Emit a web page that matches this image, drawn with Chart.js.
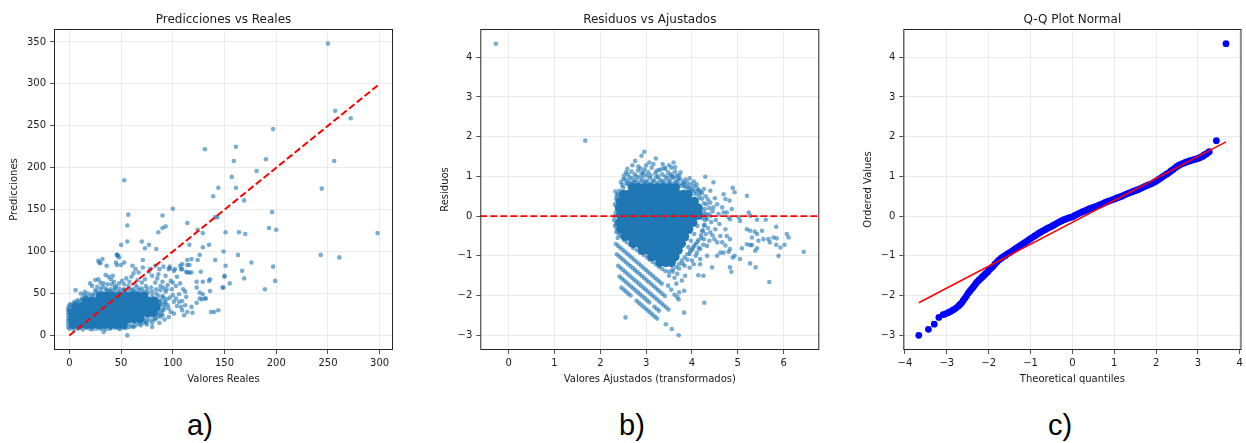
<!DOCTYPE html>
<html>
<head>
<meta charset="utf-8">
<script src="https://cdn.jsdelivr.net/npm/chart.js@4.4.0/dist/chart.umd.min.js"></script>
<style>
  body { margin: 0; background: #fff; width: 1246px; height: 443px; position: relative; overflow: hidden; }
  canvas { position: absolute; top: 0; }
  .tag { position: absolute; top: 411px; width: 80px; text-align: center; line-height: 1;
         font-family: "Liberation Sans", Arial, sans-serif; font-size: 29px; color: #000; }
</style>
</head>
<body>
<canvas id="predChart" width="410" height="400" style="left:0"></canvas>
<canvas id="residChart" width="420" height="400" style="left:410px"></canvas>
<canvas id="qqChart" width="416" height="400" style="left:830px"></canvas>
<div class="tag" style="left:160px">a)</div>
<div class="tag" style="left:592px">b)</div>
<div class="tag" style="left:1020px">c)</div>
<script>
// tick labels
var predXTicks = [0, 50, 100, 150, 200, 250, 300];
var predYTicks = [0, 50, 100, 150, 200, 250, 300, 350];
var residXTicks = [0, 1, 2, 3, 4, 5, 6];
var residYTicks = [-3, -2, -1, 0, 1, 2, 3, 4];
var qqXTicks = [-4, -3, -2, -1, 0, 1, 2, 3, 4];
var qqYTicks = [-3, -2, -1, 0, 1, 2, 3, 4];

// reference lines
var idealLine = [[0, 0], [298, 298]];
var zeroLineY = 0;
var qqFitLine = [[-3.67, -2.18], [3.67, 1.87]];

// a) predicciones vs reales: dense core (rows of [y, xs]) and scattered points
var predCoreRows = [
  [13, [4, 10, 16, 22, 28, 34, 40, 46, 52]],
  [20, [3, 8, 14, 20, 26, 32, 38, 44, 50, 56, 62, 68]],
  [27, [3, 9, 15, 21, 27, 33, 39, 45, 51, 57, 63, 69, 75, 81]],
  [34, [6, 12, 18, 24, 30, 36, 42, 48, 54, 60, 66, 72, 78, 84]],
  [41, [16, 22, 28, 34, 40, 46, 52, 58, 64, 70, 76, 82]],
  [47, [30, 36, 42, 48, 54, 60, 66, 72]]
];
var predPts = [
  [250,348],[257,268],[272,259],[197,246],[131,222],[161,225],[159,208],[190,210],[181,196],[256,208],
  [53,185],[157,189],[161,176],[144,176],[139,166],[169,161],[244,175],[196,147],[143,141],[141,141],
  [100,151],[57,144],[90,143],[56,131],[114,134],[90,128],[93,130],[86,123],[193,128],[200,126],
  [298,122],[151,123],[164,123],[170,121],[129,122],[124,126],[56,112],[70,112],[77,108],[73,104],
  [84,103],[116,108],[135,108],[129,105],[149,100],[126,96],[163,96],[243,96],[261,93],[50,108],
  [46,96],[47,95],[176,87],[141,90],[118,91],[124,90],[114,90],[197,82],[151,83],[114,84],
  [167,77],[91,82],[97,82],[107,83],[127,76],[114,75],[116,75],[118,75],[113,76],[116,84],
  [150,71],[135,65],[136,67],[169,68],[199,65],[129,64],[123,64],[155,62],[149,57],[189,55],
  [136,53],[129,49],[126,44],[123,39],[118,34],[132,44],[113,46],[109,41],[112,36],[114,28],
  [119,27],[137,28],[140,28],[144,30],[32,91],[29,87],[33,4],[56,0],[123,57],[126,51],
  [128,43],[131,44],[97,80],[102,79],[108,79],[150,70],[148,57],
  [46,96],[48,93],[28,89],[30,86],[36,83],[45,87],[53,87],[46,84],[50,84],[61,83],
  [64,79],[71,90],[71,81],[78,79],[83,83],[87,79],[96,79],[101,77],[109,85],[109,79],
  [20,62],[22,59],[35,72],[38,70],[42,71],[25,66],[28,67],[51,65],[53,61],[62,74],
  [67,75],[77,76],[80,71],[83,63],[88,59],[91,57],[98,65],[100,63],[103,59],
  [6,54],[11,50],[15,52],[32,58],[37,61],[41,61],[45,59],[57,59],[64,60],[70,63],[74,59],
  [93,52],[100,48],[103,44],[106,40],[108,34],[96,32],[101,26],[90,24],[109,30],[111,24],
  [83,19],[87,15],[75,13],[80,10],
  [25,54],[30,55],[35,56],[40,55],[44,57],[48,56],[53,55],[58,56],[62,55],[66,57],
  [70,56],[75,55],[79,57],[84,55],[88,54],[94,55],[18,50],[22,49],[27,58],[33,62],
  [43,64],[48,62],[58,64],[66,66],[73,67],[85,68],[90,64],[95,60],[60,70],[55,68],
  [40,67],[30,63],[86,73],[93,71],[104,70],[107,62],[110,55],[97,45],[92,40],[95,36],
  [98,28],[92,19],[96,22],[104,35],[101,40],[106,49],[112,52],[99,55],[90,47],[94,43],
  [88,38],[91,30],[86,24],[80,15],[74,17],[69,12],[62,10],[55,9],[48,8],[40,9],
  [30,8],[20,8],[10,9],[2,10],[-1,14],[-1,20],[-1,27],[-1,33],[1,37],[5,40],
  [8,42],[12,44],[16,46],
  [0,8],[4,7],[8,8],[13,7],[17,9],[22,7],[26,8],[31,9],[35,7],[39,8],
  [44,9],[49,8],[53,9],[58,10],[61,11],[64,12],[67,14],[71,15],[74,15],[77,18],
  [81,19],[84,21],[88,22],[58,14],[63,16],[68,18],[72,20],[76,22],[79,24],
  [86,27],[89,30],[92,33],[90,36],[93,38],[88,42],[91,45],[86,47],[84,50],[80,52],
  [76,51],[85,34],[87,40],[89,26],
  [72,52],[68,54],[64,52],[60,54],[56,52],[52,54],[48,52],[44,54],[40,52],[36,54],
  [32,51],[28,50],[24,48],[20,46],[16,45],[12,42],[8,40],[4,38],[0,36],[-1,30],
  [14,48],[26,52],[38,53],[50,50],[62,51],[74,49],[80,47],[10,38],[20,42],[28,46],
  [-1,10],[-1,17],[-1,24],[0,31],[1,12],[1,22]
];

// b) residuos vs ajustados
var residCoreRows = [
  [0.72, [2.70, 2.83, 2.97, 3.10, 3.24, 3.37, 3.51, 3.64]],
  [0.55, [2.50, 2.62, 2.75, 2.88, 3.01, 3.14, 3.27, 3.41, 3.54, 3.68, 3.81, 3.92]],
  [0.37, [2.44, 2.58, 2.71, 2.85, 2.98, 3.12, 3.25, 3.39, 3.52, 3.66, 3.79, 3.93, 4.05]],
  [0.20, [2.42, 2.55, 2.69, 2.82, 2.96, 3.09, 3.23, 3.36, 3.50, 3.63, 3.77, 3.90, 4.04, 4.14]],
  [0.02, [2.44, 2.58, 2.71, 2.85, 2.98, 3.12, 3.25, 3.39, 3.52, 3.66, 3.79, 3.93, 4.06, 4.14]],
  [-0.16, [2.42, 2.55, 2.69, 2.82, 2.96, 3.09, 3.23, 3.36, 3.50, 3.63, 3.77, 3.90, 4.02]],
  [-0.33, [2.45, 2.58, 2.71, 2.85, 2.98, 3.12, 3.25, 3.39, 3.52, 3.66, 3.79, 3.93]],
  [-0.51, [2.54, 2.66, 2.79, 2.92, 3.05, 3.18, 3.31, 3.44, 3.58, 3.71, 3.84]],
  [-0.69, [2.72, 2.85, 2.98, 3.11, 3.24, 3.37, 3.51, 3.64, 3.77]],
  [-0.86, [2.92, 3.05, 3.18, 3.31, 3.44, 3.57, 3.70]],
  [-1.02, [3.12, 3.25, 3.38, 3.51, 3.63]],
  [-1.17, [3.30, 3.43, 3.55]]
];
var residPts = [
  [2.33,0.62],[2.35,0.45],[2.32,0.30],[2.34,0.10],[2.30,-0.10],[2.32,-0.25],[2.35,-0.40],[2.38,-0.55],[2.36,0.52],[2.31,0.00],
  [2.45,0.85],[2.55,0.92],[2.62,0.88],[2.70,0.95],[2.78,0.90],[2.85,0.98],[2.92,0.92],[3.00,0.88],[3.08,0.96],[3.15,0.90],
  [3.22,0.98],[3.30,0.92],[3.38,0.88],[3.45,0.95],[3.52,0.90],[3.60,0.97],[3.68,0.88],[3.75,0.93],[3.82,0.86],[3.90,0.84],
  [3.98,0.80],[4.05,0.75],[4.12,0.70],[4.18,0.62],[2.60,1.05],[2.68,1.12],[2.75,1.05],[2.82,1.15],[2.90,1.08],[2.97,1.18],
  [3.05,1.10],[3.12,1.22],[3.20,1.08],[3.28,1.16],[3.35,1.05],[3.48,1.10],[3.56,1.05],[3.63,1.12],[3.72,1.02],[2.52,1.02],
  [2.83,1.25],[3.40,1.22],[3.55,1.22],[2.96,1.62],[2.90,1.52],[3.21,1.45],[3.07,1.35],[3.16,1.31],[2.76,1.39],[2.70,1.28],
  [3.60,1.35],[3.63,1.23],[3.36,1.31],[3.42,1.19],[3.23,1.14],[2.59,1.19],[2.50,0.93],[2.94,1.10],[3.01,1.02],[3.52,1.02],
  [3.67,1.02],[4.04,0.87],[4.29,0.99],[4.47,0.85],[4.26,0.68],[4.40,0.64],[4.69,0.55],[4.73,0.43],[4.89,0.71],[4.93,0.60],
  [4.82,0.39],[4.87,0.18],[4.66,0.22],[4.69,0.09],[4.40,0.34],[4.47,0.22],[5.20,0.51],[5.24,0.09],[5.27,0.01],[5.02,-0.03],
  [5.05,-0.12],[4.83,-0.08],[5.42,-0.09],[5.61,-0.09],[5.20,-0.33],[5.27,-0.37],[5.37,-0.39],[5.42,-0.45],[5.31,-0.54],[5.53,-0.37],
  [5.84,-0.27],[5.56,-0.58],[5.67,-0.58],[5.70,-0.66],[5.78,-0.54],[5.85,-0.56],[6.07,-0.45],[6.11,-0.54],[5.45,-0.62],[5.20,-0.71],
  [5.27,-0.73],[5.31,-0.73],[5.84,-0.72],[5.93,-0.79],[6.02,-0.72],[6.44,-0.90],[5.89,-1.00],[5.42,-0.81],[5.38,-0.87],[5.09,-0.81],
  [5.05,-1.08],[4.89,-1.04],[4.93,-1.00],[4.80,-0.90],[4.83,-0.83],[5.27,-1.19],[5.39,-1.29],[5.69,-1.66],[4.83,-1.29],[4.86,-1.40],
  [4.44,-1.29],[4.18,-1.21],[4.18,-1.08],[4.25,-1.50],[4.14,-1.49],[4.04,-1.21],[3.84,-1.25],[3.85,-1.50],[4.27,-2.18],[3.83,-2.43],
  [3.71,-3.00],[3.56,-2.84],[3.43,-2.72],[2.55,-2.55],[1.67,1.90],[-0.28,4.34],[4.62,-0.50],[4.66,-0.66],[4.73,-0.74],[4.40,-0.41],
  [4.51,-0.33],[4.73,-0.33],[4.76,-0.50],[4.83,-0.58],[4.26,-0.58],[4.33,-0.75],[4.11,-0.92],[4.18,-0.83],[4.33,-1.00],[4.55,-1.00],
  [4.62,-0.92],[4.69,-0.92],[4.49,-0.58],[4.55,-0.66],[4.76,0.09],[4.80,-0.03],[4.40,0.01],[4.26,0.09],[4.33,-0.08],
  [4.30,0.50],[4.35,0.42],[4.32,0.30],[4.38,0.20],[4.45,0.12],[4.36,0.05],[4.30,-0.02],[4.42,-0.15],[4.28,-0.22],[4.35,-0.30],
  [4.22,-0.38],[4.30,-0.45],[4.20,-0.55],[4.12,-0.65],[4.05,-0.75],[4.00,-0.85],[3.95,-0.95],[3.90,-1.10],[3.80,-1.20],[3.72,-1.32],
  [3.68,-1.45],[3.62,-1.55],[3.50,-1.50],[3.58,-1.40],[4.50,0.45],[4.55,0.30],[4.58,0.05],[4.60,-0.20],[4.52,-0.10],[4.45,-0.48],
  [4.38,-0.62],[4.25,-0.72],[4.15,-0.80],[4.08,-1.00],[4.00,-1.12],[3.95,-1.30],[4.22,0.58],[4.15,0.65],
  [3.71,-2.10],[3.62,-1.98],[3.55,-1.85],[3.48,-1.75],[3.66,-1.70],[3.78,-1.62],[3.68,-2.04],[3.83,-1.88],[3.72,-1.92],
  [2.45,-0.50],[2.52,-0.60],[2.58,-0.66],[2.65,-0.72],[2.72,-0.80],[2.80,-0.86],[2.87,-0.92],[2.95,-0.98],[3.02,-1.04],[3.08,-1.10],
  [3.15,-1.16],[3.22,-1.22],[3.28,-1.28],[3.35,-1.33],[3.42,-1.38],[3.50,-1.40],[3.58,-1.34],[3.66,-1.28],[3.72,-1.20],[3.78,-1.12],
  [3.84,-1.04],[3.90,-0.96],[3.96,-0.88],[4.02,-0.80],[4.08,-0.70],[4.14,-0.60],[4.20,-0.48],[4.24,-0.36],[4.26,-0.24],[4.28,-0.10],
  [4.29,0.04],[4.28,0.18],[4.26,0.32],[4.22,0.44],[4.16,0.54],[4.08,0.62],[4.00,0.68],[3.92,0.74],[3.84,0.78],[2.50,0.72],
  [2.42,0.64],[2.38,0.55],[2.36,0.40],[2.35,0.25],[2.34,-0.20],[2.36,-0.32],[2.40,-0.45],[2.60,0.80],[2.70,0.84],[3.80,0.82],
  [4.10,0.30],[4.18,0.10],[4.12,-0.25],[4.05,-0.45],[3.98,-0.62],[3.92,-0.78],[4.15,0.45],[4.22,-0.05],[3.88,-0.58],[3.95,-0.40],
  [2.48,0.78],[2.57,0.83],[2.66,0.80],[2.74,0.86],[2.81,0.82],[2.88,0.87],[2.95,0.83],[3.03,0.85],[3.11,0.82],[3.18,0.87],
  [3.26,0.83],[3.34,0.86],[3.41,0.81],[3.49,0.85],[3.57,0.82],[3.64,0.86],[3.71,0.80],[3.78,0.76],[3.86,0.72],[3.94,0.70],
  [4.02,0.64],[4.08,0.55],[2.64,0.98],[2.79,1.00],[2.93,1.02],[3.10,1.02],[3.26,1.00],[3.42,1.00],[3.58,0.98],[3.70,0.95],
  [3.86,0.92],[2.56,1.10],[2.88,1.20],[3.00,1.28],[3.33,1.18],[3.50,1.28],[3.75,1.10],[3.95,0.95],[4.10,0.80]
];
// diagonal bands of residuals below the cloud
var residStripePts = [
  [2.34,-0.70],[2.39,-0.75],[2.44,-0.80],[2.49,-0.85],[2.54,-0.90],[2.59,-0.95],[2.64,-1.00],[2.69,-1.05],[2.74,-1.10],[2.79,-1.15],
  [2.84,-1.20],[2.89,-1.25],[2.94,-1.30],[2.99,-1.35],[3.04,-1.40],[3.09,-1.45],[3.14,-1.50],[3.19,-1.55],[3.24,-1.60],[3.29,-1.65],[3.34,-1.70],
  [2.36,-0.96],[2.41,-1.01],[2.46,-1.06],[2.51,-1.11],[2.56,-1.16],[2.61,-1.21],[2.66,-1.26],[2.71,-1.31],[2.76,-1.36],[2.81,-1.41],
  [2.86,-1.46],[2.91,-1.51],[2.96,-1.56],[3.01,-1.61],[3.06,-1.66],[3.11,-1.71],[3.16,-1.76],[3.21,-1.81],[3.26,-1.86],[3.31,-1.91],[3.36,-1.96],[3.41,-2.01],
  [2.39,-1.25],[2.44,-1.30],[2.49,-1.35],[2.54,-1.40],[2.59,-1.45],[2.64,-1.50],[2.69,-1.55],[2.74,-1.60],[2.79,-1.65],[2.84,-1.70],
  [2.89,-1.75],[2.94,-1.80],[2.99,-1.85],[3.04,-1.90],[3.09,-1.95],[3.14,-2.00],[3.19,-2.05],[3.24,-2.10],[3.29,-2.15],[3.34,-2.20],
  [3.39,-2.25],[3.44,-2.30],[3.49,-2.35],
  [2.42,-1.52],[2.47,-1.57],[2.52,-1.62],[2.57,-1.67],[2.62,-1.72],[2.67,-1.77],[2.72,-1.82],[2.77,-1.87],[2.82,-1.92],[2.87,-1.97],
  [2.92,-2.02],[2.97,-2.07],[3.02,-2.12],[3.07,-2.17],[3.18,-2.28],[3.23,-2.33],[3.28,-2.38],
  [2.46,-1.80],[2.51,-1.85],[2.56,-1.90],[2.61,-1.95],[2.66,-2.00],[2.79,-2.13],[2.84,-2.18],[2.89,-2.23],[2.94,-2.28],[2.99,-2.33],
  [3.04,-2.38],[3.09,-2.43],[3.14,-2.48],[3.19,-2.53],[3.24,-2.58]
];

// c) Q-Q plot: theoretical quantiles and ordered residuals
var qqTheo = [-3.67, -3.44, -3.30, -3.19, -3.09, -3.03, -2.97, -2.91, -2.85, -2.79, -2.73, -2.69, -2.65, -2.61,
  -2.57, -2.53, -2.49, -2.45, -2.42, -2.38, -2.35, -2.31, -2.28, -2.24, -2.21, -2.17, -2.14, -2.10, -2.07,
  -2.03, -2.00, -1.95, -1.90, -1.85, -1.80, -1.75, -1.70, -1.65, -1.60, -1.55, -1.50, -1.45, -1.40, -1.35,
  -1.30, -1.25, -1.20, -1.15, -1.10, -1.05, -1.00, -0.95, -0.90, -0.85, -0.80, -0.75, -0.70, -0.65, -0.60,
  -0.55, -0.50, -0.45, -0.40, -0.35, -0.30, -0.25, -0.20, -0.15, -0.10, -0.05, 0.00, 0.05, 0.10, 0.15,
  0.20, 0.25, 0.30, 0.35, 0.40, 0.45, 0.50, 0.55, 0.60, 0.65, 0.70, 0.75, 0.80, 0.85, 0.90, 0.95, 1.00,
  1.05, 1.10, 1.15, 1.20, 1.25, 1.30, 1.35, 1.40, 1.45, 1.50, 1.55, 1.60, 1.65, 1.70, 1.75, 1.80, 1.85,
  1.90, 1.95, 2.00, 2.05, 2.10, 2.15, 2.20, 2.25, 2.30, 2.35, 2.40, 2.45, 2.50, 2.55, 2.60, 2.65, 2.70,
  2.75, 2.80, 2.85, 2.90, 2.95, 3.00, 3.04, 3.08, 3.12, 3.15, 3.19, 3.22, 3.27, 3.44, 3.67];
var qqOrdered = [-3.00, -2.85, -2.72, -2.55, -2.48, -2.46, -2.43, -2.40, -2.36, -2.32, -2.27, -2.23, -2.19, -2.13,
  -2.07, -2.01, -1.94, -1.89, -1.85, -1.80, -1.76, -1.70, -1.66, -1.62, -1.59, -1.55, -1.52, -1.48, -1.44,
  -1.41, -1.37, -1.32, -1.27, -1.21, -1.15, -1.10, -1.06, -1.02, -0.99, -0.95, -0.92, -0.885, -0.85, -0.815,
  -0.78, -0.745, -0.71, -0.675, -0.64, -0.605, -0.57, -0.535, -0.50, -0.465, -0.43, -0.40, -0.37, -0.34, -0.31,
  -0.285, -0.26, -0.23, -0.20, -0.17, -0.14, -0.115, -0.09, -0.07, -0.05, -0.035, -0.02, 0.01, 0.04, 0.065,
  0.09, 0.11, 0.13, 0.155, 0.18, 0.20, 0.22, 0.24, 0.26, 0.28, 0.30, 0.325, 0.35, 0.37, 0.39, 0.41, 0.43,
  0.45, 0.47, 0.49, 0.51, 0.535, 0.56, 0.58, 0.60, 0.62, 0.64, 0.66, 0.68, 0.705, 0.73, 0.755, 0.78, 0.80,
  0.82, 0.85, 0.88, 0.915, 0.95, 0.985, 1.02, 1.055, 1.09, 1.13, 1.17, 1.21, 1.25, 1.28, 1.31, 1.33, 1.35,
  1.37, 1.39, 1.405, 1.42, 1.435, 1.45, 1.47, 1.49, 1.51, 1.54, 1.56, 1.58, 1.62, 1.90, 4.34];

Chart.defaults.font.family = "'DejaVu Sans', sans-serif";
var inkColor = '#1a1a1a';
var dotColor = 'rgba(31, 119, 180, 0.6)';

function toXY(pairs) {
  return pairs.map(function (p) { return {x: p[0], y: p[1]}; });
}
function rowsToXY(rows) {
  var out = [];
  rows.forEach(function (r) {
    r[1].forEach(function (x) { out.push({x: x, y: r[0]}); });
  });
  return out;
}
function fmt(v) {
  return v < 0 ? '\u2212' + Math.abs(v) : String(v);
}

// matplotlib style box around the axes
var framePlugin = {
  id: 'frame',
  afterDatasetsDraw: function (chart) {
    var a = chart.chartArea, ctx = chart.ctx;
    ctx.save();
    ctx.strokeStyle = '#262626';
    ctx.lineWidth = 1;
    ctx.strokeRect(a.left + 0.5, a.top + 0.5, a.right - a.left - 1, a.bottom - a.top - 1);
    ctx.restore();
  }
};

function axisOpts(c) {
  return {
    type: 'linear',
    min: c.min,
    max: c.max,
    afterBuildTicks: function (s) { s.ticks = c.ticks.map(function (v) { return {value: v}; }); },
    afterFit: c.fit,
    border: {display: false},
    grid: {color: '#e6e6e6', lineWidth: 0.8, tickColor: '#262626', tickLength: 4, tickWidth: 0.8},
    ticks: {padding: c.pad, color: inkColor, font: {size: 10}, autoSkip: false, maxRotation: 0, callback: fmt},
    title: {display: true, text: c.label, color: inkColor, font: {size: 10}, padding: c.titlePad}
  };
}

function makeChart(id, cfg) {
  var ctx = document.getElementById(id).getContext('2d');
  return new Chart(ctx, {
    type: 'scatter',
    data: {datasets: cfg.datasets},
    options: {
      responsive: false,
      animation: false,
      events: [],
      layout: {padding: {left: 0, right: cfg.padRight, top: 0, bottom: 0}},
      plugins: {
        legend: {display: false},
        tooltip: {enabled: false},
        title: {display: true, text: cfg.title, color: inkColor, font: {size: 12, weight: 'normal'},
          padding: {top: 12.3, bottom: 2.3}, fullSize: false}
      },
      scales: {
        x: axisOpts({min: cfg.xMin, max: cfg.xMax, ticks: cfg.xTicks, label: cfg.xLabel, pad: 3,
          titlePad: {top: 0, bottom: 14.4}, fit: function (s) { s.height = 50; }}),
        y: axisOpts({min: cfg.yMin, max: cfg.yMax, ticks: cfg.yTicks, label: cfg.yLabel, pad: 4,
          titlePad: {top: cfg.yTitlePad, bottom: 0}, fit: function (s) { s.width = cfg.areaLeft; }})
      }
    },
    plugins: [framePlugin]
  });
}

makeChart('predChart', {
  title: 'Predicciones vs Reales', xLabel: 'Valores Reales', yLabel: 'Predicciones',
  xMin: -14.9, xMax: 312.9, yMin: -17.4, yMax: 365.4, xTicks: predXTicks, yTicks: predYTicks,
  areaLeft: 54, padRight: 17, yTitlePad: 8.3,
  datasets: [
    {type: 'line', data: toXY(idealLine), borderColor: '#ff0000', borderWidth: 2, borderDash: [7, 3],
      pointRadius: 0, fill: false},
    {data: toXY(predPts), pointRadius: 2.3, pointBackgroundColor: dotColor, pointBorderWidth: 0},
    {data: rowsToXY(predCoreRows), pointRadius: 4.6, pointBackgroundColor: '#1f77b4', pointBorderWidth: 0}
  ]
});

makeChart('residChart', {
  title: 'Residuos vs Ajustados', xLabel: 'Valores Ajustados (transformados)', yLabel: 'Residuos',
  xMin: -0.62, xMax: 6.78, yMin: -3.37, yMax: 4.71, xTicks: residXTicks, yTicks: residYTicks,
  areaLeft: 70.3, padRight: 10.7, yTitlePad: 29,
  datasets: [
    {type: 'line', data: [{x: -0.62, y: zeroLineY}, {x: 6.78, y: zeroLineY}], borderColor: '#ff0000',
      borderWidth: 1.8, borderDash: [7, 3], pointRadius: 0, fill: false},
    {data: toXY(residPts), pointRadius: 2.3, pointBackgroundColor: dotColor, pointBorderWidth: 0},
    {data: toXY(residStripePts), pointRadius: 2.3, pointBackgroundColor: dotColor, pointBorderWidth: 0},
    {data: rowsToXY(residCoreRows), pointRadius: 4.6, pointBackgroundColor: '#1f77b4', pointBorderWidth: 0}
  ]
});

makeChart('qqChart', {
  title: 'Q-Q Plot Normal', xLabel: 'Theoretical quantiles', yLabel: 'Ordered Values',
  xMin: -4.04, xMax: 4.04, yMin: -3.37, yMax: 4.71, xTicks: qqXTicks, yTicks: qqYTicks,
  areaLeft: 73.3, padRight: 3.3, yTitlePad: 32.3,
  datasets: [
    {type: 'line', data: toXY(qqFitLine), borderColor: '#ff0000', borderWidth: 1.5, pointRadius: 0, fill: false},
    {data: qqTheo.map(function (t, i) { return {x: t, y: qqOrdered[i]}; }), pointRadius: 3.4,
      pointBackgroundColor: '#0000ff', pointBorderWidth: 0}
  ]
});
</script>
</body>
</html>
